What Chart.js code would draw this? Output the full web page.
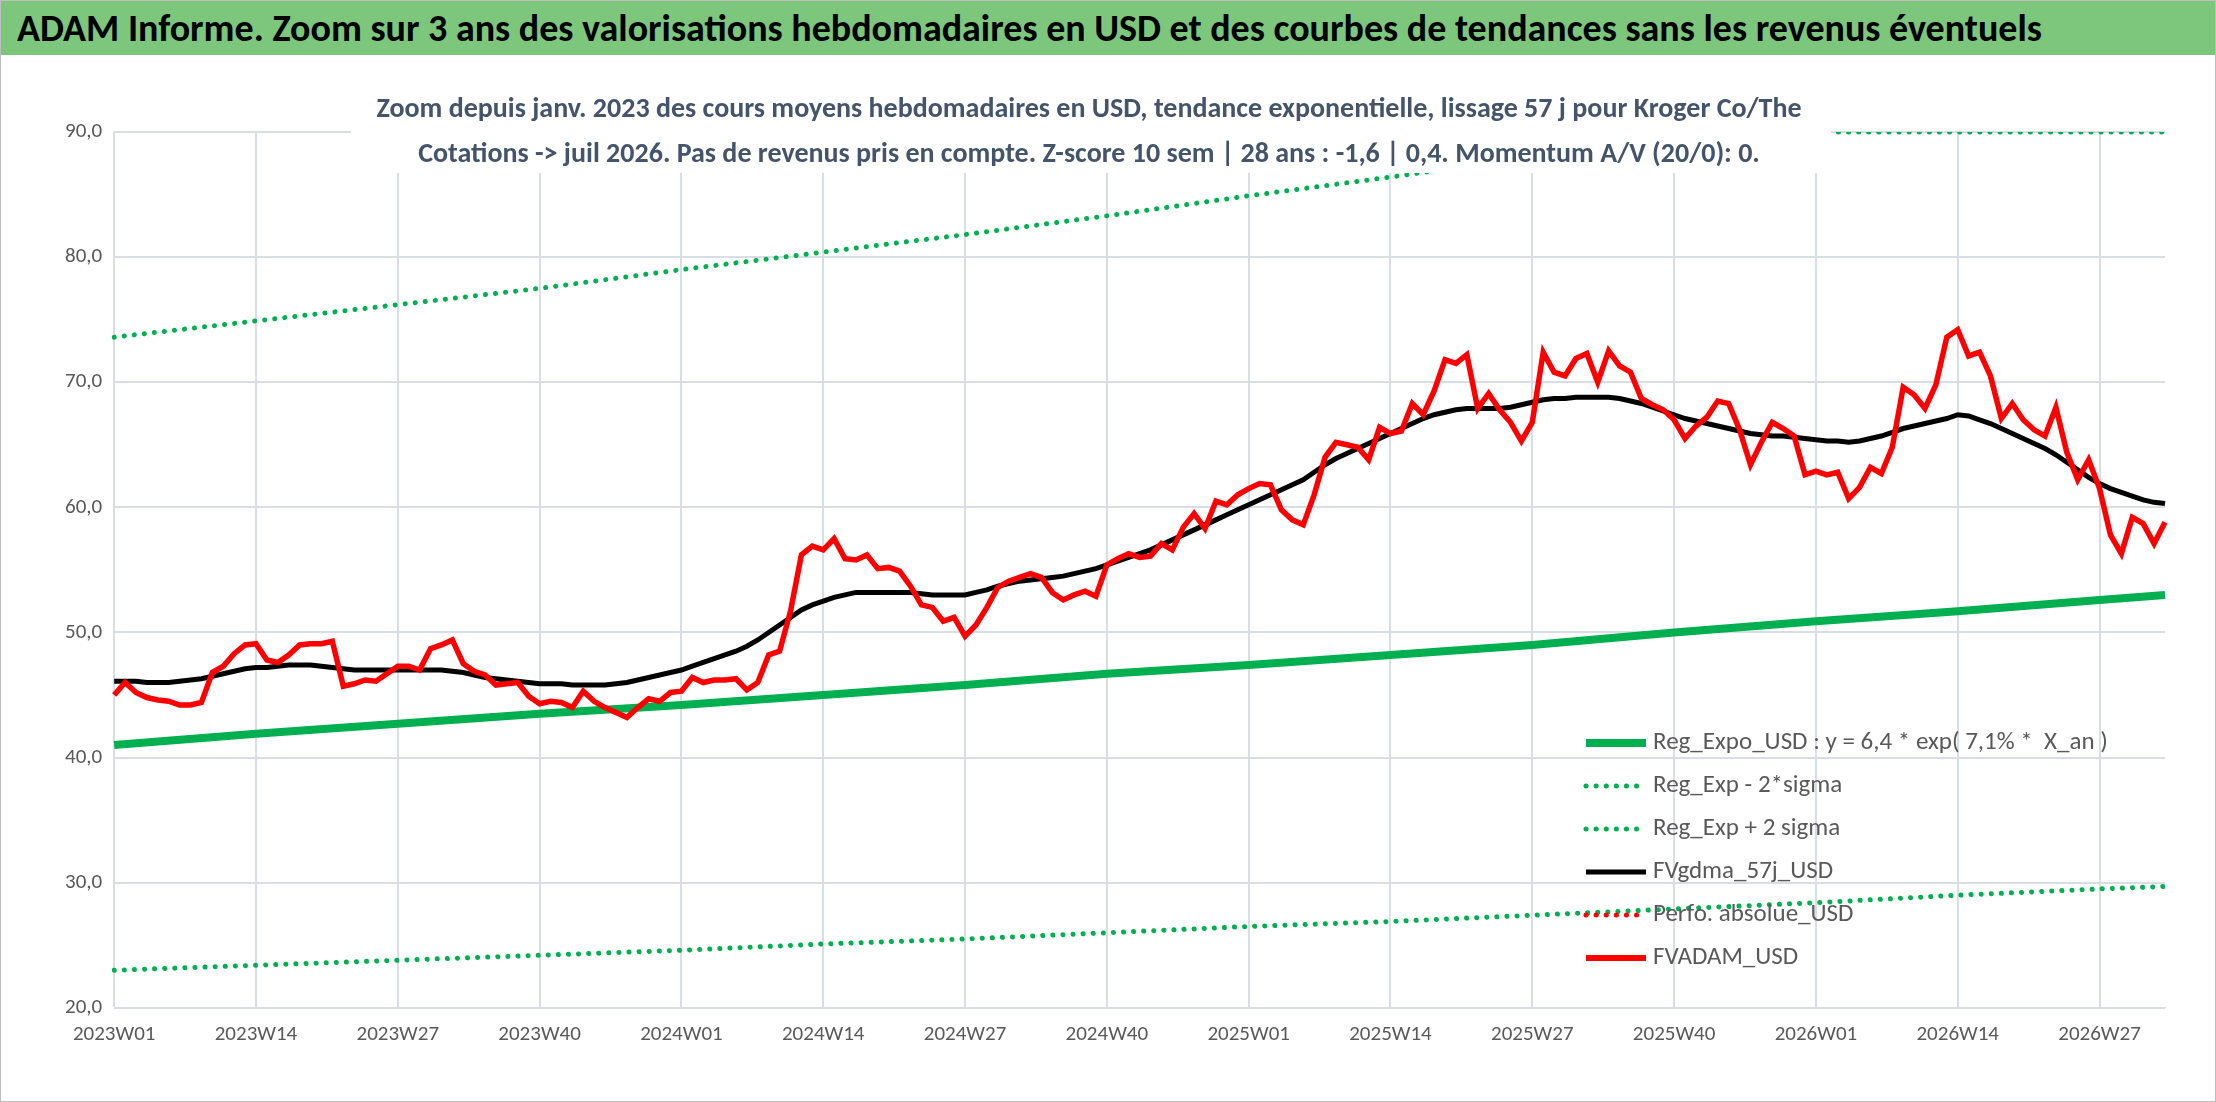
<!DOCTYPE html>
<html>
<head>
<meta charset="utf-8">
<script src="https://cdn.jsdelivr.net/npm/chart.js@4.4.1/dist/chart.umd.min.js"></script>
<style>
  html, body { margin: 0; padding: 0; background: #fff; }
  #wrap { width: 2214px; height: 1100px; border: 1px solid #bfbfbf; position: relative; overflow: hidden; }
  #banner { height: 54px; background: #7dc77d; font-family: Calibri, Carlito, "Liberation Sans", sans-serif; font-weight: bold; font-size: 38px; line-height: 54px; padding-left: 16px; color: #000; white-space: nowrap; }
  #box { position: absolute; left: 0; top: 54px; width: 2214px; height: 1046px; }
</style>
</head>
<body>
<div id="wrap">
  <div id="banner">ADAM Informe. Zoom sur 3 ans des valorisations hebdomadaires en USD et des courbes de tendances sans les revenus éventuels</div>
  <div id="box"><canvas id="chart"></canvas></div>
</div>
<script>
// Semaines ISO 2023W01 -> 2026W33
const weeksPerYear = { 2023: 52, 2024: 52, 2025: 52, 2026: 33 };
const labels = [];
Object.keys(weeksPerYear).forEach(y => {
  for (let w = 1; w <= weeksPerYear[y]; w++) labels.push(y + 'W' + String(w).padStart(2, '0'));
});

// FVADAM_USD (cours moyens hebdo)
const fvadam = [
  45.0,46.0,45.2,44.8,44.6,44.5,44.2,44.2,44.4,46.8,47.3,48.3,49.0,49.1,47.8,47.6,48.2,49.0,49.1,49.1,
  49.3,45.7,45.9,46.2,46.1,46.7,47.3,47.3,47.0,48.7,49.0,49.4,47.5,46.9,46.6,45.8,45.9,46.0,44.9,44.3,
  44.5,44.4,44.0,45.3,44.5,44.0,43.6,43.2,44.0,44.7,44.5,45.2,45.3,46.4,46.0,46.2,46.2,46.3,45.4,46.0,
  48.2,48.5,51.7,56.2,56.9,56.6,57.5,55.9,55.8,56.2,55.1,55.2,54.9,53.7,52.2,52.0,50.9,51.2,49.7,50.6,
  52.0,53.6,54.1,54.4,54.7,54.4,53.2,52.6,53.0,53.3,52.9,55.4,55.9,56.3,56.0,56.1,57.1,56.6,58.4,59.5,
  58.3,60.5,60.2,61.0,61.5,61.9,61.8,59.8,59.0,58.6,61.0,64.0,65.2,65.0,64.8,63.8,66.4,65.9,66.1,68.3,
  67.4,69.3,71.8,71.5,72.2,67.9,69.1,67.8,66.8,65.3,66.8,72.4,70.8,70.5,71.9,72.3,70.0,72.5,71.3,70.8,
  68.7,68.2,67.8,67.0,65.5,66.5,67.2,68.5,68.3,66.2,63.4,65.2,66.8,66.3,65.7,62.6,62.9,62.6,62.8,60.7,
  61.6,63.2,62.7,64.8,69.6,69.0,67.9,69.8,73.6,74.2,72.1,72.4,70.5,67.1,68.3,67.0,66.2,65.7,68.0,64.4,
  62.2,63.8,61.5,57.8,56.3,59.2,58.7,57.1,58.8
];

// FVgdma_57j_USD (lissage 57 j)
const gdma57 = [
  46.1,46.1,46.1,46.0,46.0,46.0,46.1,46.2,46.3,
  46.5,46.7,46.9,47.1,47.2,47.2,47.3,47.4,47.4,47.4,47.3,47.2,
  47.1,47.0,47.0,47.0,47.0,47.0,47.0,47.0,47.0,47.0,46.9,46.8,46.6,
  46.4,46.3,46.2,46.1,46.0,45.9,45.9,45.9,45.8,45.8,45.8,45.8,45.9,46.0,46.2,46.4,46.6,46.8,47.0,
  47.3,47.6,47.9,48.2,48.5,48.9,49.4,50.0,50.6,51.2,
  51.8,52.2,52.5,52.8,53.0,53.2,53.2,53.2,53.2,53.2,53.2,53.1,53.0,53.0,53.0,53.0,
  53.2,53.4,53.7,53.9,54.1,54.2,54.3,54.4,54.5,54.7,54.9,55.1,
  55.4,55.7,56.0,56.3,56.6,57.0,57.4,57.8,58.2,58.6,59.0,59.4,59.8,60.2,
  60.6,61.0,61.4,61.8,62.2,62.8,63.4,63.9,64.3,64.7,65.1,65.5,65.9,66.3,66.7,67.1,
  67.4,67.6,67.8,67.9,67.9,67.9,67.9,68.0,68.2,68.4,68.6,68.7,68.7,68.8,68.8,68.8,68.8,68.7,68.5,68.3,
  68.0,67.7,67.4,67.1,66.9,66.7,66.5,66.3,66.1,65.9,65.8,65.7,65.7,65.6,65.5,65.4,65.3,65.3,65.2,65.3,65.5,65.7,66.0,
  66.3,66.5,66.7,66.9,67.1,67.4,67.3,67.0,66.7,66.3,65.9,65.5,65.1,64.7,64.2,63.6,63.0,62.4,61.9,61.5,61.2,60.9,60.6,60.4,60.3
];

// Tendances, lues toutes les 13 semaines (index 0,13,...,182, puis fin)
const trendIdx = [0,13,26,39,52,65,78,91,104,117,130,143,156,169,182,188];
const regExpo  = [41.0,41.9,42.7,43.5,44.2,45.0,45.8,46.7,47.4,48.2,49.0,50.0,50.9,51.7,52.6,53.0];
const regUpper = [73.6,74.9,76.2,77.5,79.0,80.4,81.8,83.3,84.9,86.4,88.0,89.6,90,90,90,90];
const regLower = [23.0,23.4,23.8,24.2,24.6,25.1,25.5,26.0,26.5,26.9,27.4,27.9,28.4,29.0,29.5,29.7];

function sparse(vals) {
  const out = new Array(labels.length).fill(null);
  trendIdx.forEach((i, k) => { if (i < out.length) out[i] = vals[k]; });
  return out;
}

const FONT = 'Calibri, Carlito, "Liberation Sans", sans-serif';
const dotted = { borderDash: [0.1, 10], borderCapStyle: 'round', borderWidth: 5 };

const overlayPlugin = {
  id: 'overlay',
  afterDatasetsDraw(chart) {
    const ctx = chart.ctx;
    ctx.save();
    // sous-titre
    ctx.fillStyle = '#fff';
    ctx.fillRect(350, 30, 1480, 88);
    ctx.fillStyle = '#44546a';
    ctx.font = 'bold 28px ' + FONT;
    ctx.textAlign = 'center';
    ctx.textBaseline = 'middle';
    ctx.fillText('Zoom depuis janv. 2023 des cours moyens hebdomadaires en USD, tendance exponentielle, lissage 57 j pour Kroger Co/The', 1088, 55);
    ctx.fillText('Cotations -> juil 2026. Pas de revenus pris en compte. Z-score 10 sem | 28 ans : -1,6 | 0,4. Momentum A/V (20/0): 0.', 1088, 100);
    // légende
    const items = [
      ['Reg_Expo_USD : y = 6,4 * exp( 7,1% *  X_an )', '#00b050', 8, false],
      ['Reg_Exp - 2*sigma', '#00b050', 5, true],
      ['Reg_Exp + 2 sigma', '#00b050', 5, true],
      ['FVgdma_57j_USD', '#000000', 5, false],
      ['Perfo. absolue_USD', '#ff0000', 5, true],
      ['FVADAM_USD', '#ff0000', 6, false]
    ];
    let y = 688;
    ctx.textAlign = 'left';
    ctx.font = '25px ' + FONT;
    items.forEach(it => {
      ctx.strokeStyle = it[1];
      ctx.lineWidth = it[2];
      ctx.lineCap = it[3] ? 'round' : 'butt';
      ctx.setLineDash(it[3] ? [0.1, 10] : []);
      ctx.beginPath();
      ctx.moveTo(1585, y);
      ctx.lineTo(1645, y);
      ctx.stroke();
      ctx.fillStyle = '#595959';
      ctx.fillText(it[0], 1652, y);
      y += 43;
    });
    ctx.restore();
  }
};

new Chart(document.getElementById('chart'), {
  type: 'line',
  data: {
    labels: labels,
    datasets: [
      { label: 'Reg_Expo_USD', data: sparse(regExpo), borderColor: '#00b050', borderWidth: 8, pointRadius: 0, spanGaps: true, order: 5 },
      Object.assign({ label: 'Reg_Exp - 2*sigma', data: sparse(regLower), borderColor: '#00b050', pointRadius: 0, spanGaps: true, order: 6 }, dotted),
      Object.assign({ label: 'Reg_Exp + 2 sigma', data: sparse(regUpper), borderColor: '#00b050', pointRadius: 0, spanGaps: true, order: 7 }, dotted),
      { label: 'FVgdma_57j_USD', data: gdma57, borderColor: '#000', borderWidth: 5, pointRadius: 0, order: 2 },
      { label: 'FVADAM_USD', data: fvadam, borderColor: '#ff0000', borderWidth: 5.5, pointRadius: 0, order: 1 }
    ]
  },
  options: {
    responsive: true,
    maintainAspectRatio: false,
    animation: false,
    layout: { padding: { left: 52, right: 50, top: 77, bottom: 40 } },
    plugins: { legend: { display: false }, tooltip: { enabled: false } },
    scales: {
      x: {
        grid: { color: ctx => (ctx.index % 13 === 0 ? '#d9dde6' : 'rgba(0,0,0,0)'), lineWidth: 2, drawTicks: false },
        border: { color: '#d9dde6' },
        ticks: {
          autoSkip: false, maxRotation: 0, padding: 14,
          color: '#595959', font: { family: FONT, size: 21 },
          callback: (v, i) => (i % 13 === 0 ? labels[i] : '')
        }
      },
      y: {
        min: 20, max: 90,
        grid: { color: '#d9dde6', lineWidth: 2, drawTicks: false },
        border: { display: false },
        ticks: {
          stepSize: 10, padding: 12,
          color: '#595959', font: { family: FONT, size: 21 },
          callback: v => v.toFixed(1).replace('.', ',')
        }
      }
    }
  },
  plugins: [overlayPlugin]
});
</script>
</body>
</html>
